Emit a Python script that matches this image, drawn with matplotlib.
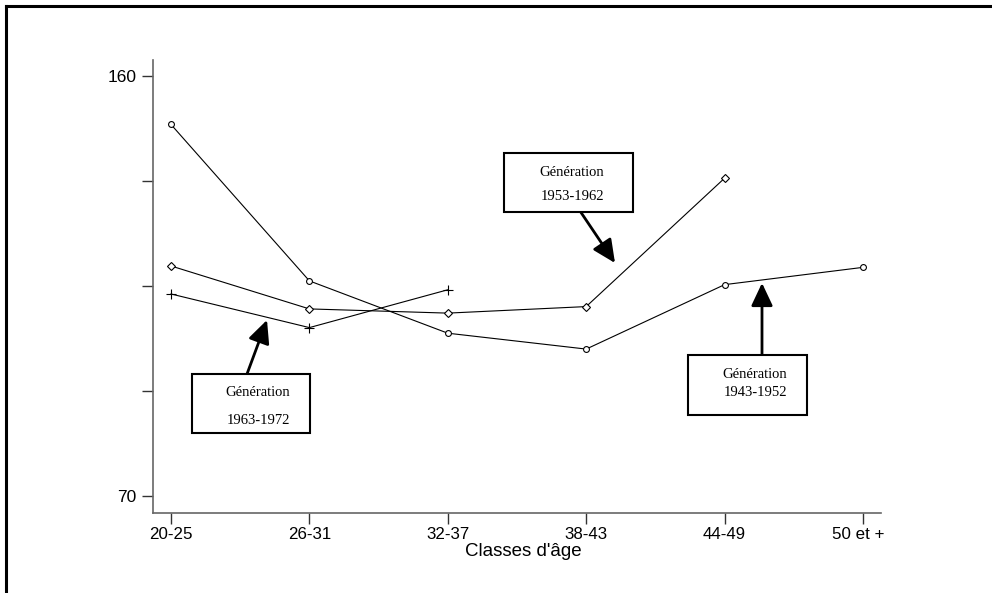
import matplotlib
matplotlib.use("Agg")
import matplotlib.pyplot as plt
from matplotlib.lines import Line2D
from matplotlib.patches import Rectangle
from matplotlib.transforms import ScaledTranslation

# ---- data ----
categories = ["20-25", "26-31", "32-37", "38-43", "44-49", "50 et +"]
gen_1943_1952 = [149.6, 116.1, 104.9, 101.5, 115.3, 119.0]
gen_1953_1962 = [119.3, 110.1, 109.2, 110.6, 138.1]
gen_1963_1972 = [113.3, 106.1, 114.2]
y_ticks = [70, 92.5, 115, 137.5, 160]
y_tick_labels = ["70", "", "", "", "160"]
x_label = "Classes d'âge"

W, H = 992, 593
fig = plt.figure(figsize=(W / 100, H / 100), dpi=100)
ax = fig.add_axes([153 / W, 1 - 513 / H, (881 - 153) / W, (513 - 60) / H])

sans = ["Liberation Sans", "DejaVu Sans"]
serif = ["Liberation Serif", "DejaVu Serif"]

x = list(range(len(categories)))
ax.plot(x[:len(gen_1943_1952)], gen_1943_1952, color="black", lw=0.8,
        marker="o", ms=4.2, mfc="white", mec="black", mew=0.8)
ax.plot(x[:len(gen_1953_1962)], gen_1953_1962, color="black", lw=0.8,
        marker="D", ms=3.8, mfc="white", mec="black", mew=0.8)
ax.plot(x[:len(gen_1963_1972)], gen_1963_1972, color="black", lw=0.8,
        marker="+", ms=7.5, mec="black", mew=0.8)

ax.set_xlim(-0.13, 5.13)
ax.set_ylim(66.4, 163.4)
ax.set_xticks(x)
ax.set_xticklabels(categories, fontfamily=sans, fontsize=12.2)
ax.set_yticks(y_ticks)
ax.set_yticklabels(y_tick_labels, fontfamily=sans, fontsize=12.5)
ax.set_xlabel(x_label, fontfamily=sans, fontsize=13.5)
ax.xaxis.label.set_va("center")
ax.xaxis.set_label_coords((523.5 - 153) / 728, (513 - 552) / 453)
ax.tick_params(axis="both", direction="out", length=8, width=1.0, color="#333333")
ax.tick_params(axis="x", pad=2)
ax.tick_params(axis="y", pad=4)
for s in ["top", "right"]:
    ax.spines[s].set_visible(False)
for s in ["left", "bottom"]:
    ax.spines[s].set_color("#666666")
    ax.spines[s].set_linewidth(1.2)

# last tick label sits slightly left of its tick
last = ax.get_xticklabels()[-1]
last.set_transform(last.get_transform() + ScaledTranslation(-5 / 100, 0, fig.dpi_scale_trans))

# outer frame (cut at right and bottom)
fig.add_artist(Line2D([6 / W, 6 / W], [1 - 5.5 / H, -0.05], transform=fig.transFigure,
                      color="black", lw=2.2, solid_capstyle="projecting"))
fig.add_artist(Line2D([6 / W, 1.05], [1 - 5.5 / H, 1 - 5.5 / H], transform=fig.transFigure,
                      color="black", lw=2.2, solid_capstyle="projecting"))

# annotation boxes
boxes = [
    ((192, 374, 310, 433), 258, ("Génération", 393), ("1963-1972", 420), (247, 374), (267, 320)),
    ((504, 153, 633, 212), 572, ("Génération", 172), ("1953-1962", 196), (578, 208), (615, 263)),
    ((688, 355, 807, 415), 755, ("Génération", 374), ("1943-1952", 393), (762, 355), (762, 283)),
]
for (x0, y0, x1, y1), tx, l1, l2, base, tip in boxes:
    ax.annotate("", xy=(tip[0], H - tip[1]), xytext=(base[0], H - base[1]),
                xycoords="figure pixels", textcoords="figure pixels",
                arrowprops=dict(arrowstyle="-|>,head_length=0.7,head_width=0.33",
                                mutation_scale=20, lw=2.0, color="black",
                                shrinkA=0, shrinkB=0), annotation_clip=False)
    fig.add_artist(Rectangle((x0 / W, 1 - y1 / H), (x1 - x0) / W, (y1 - y0) / H,
                             transform=fig.transFigure, fill=True, facecolor="white",
                             edgecolor="black", lw=1.5))
    for txt, ty in (l1, l2):
        fig.text(tx / W, 1 - ty / H, txt, ha="center", va="center",
                 fontfamily=serif, fontsize=10.5)

fig.savefig("out.png", dpi=100)
